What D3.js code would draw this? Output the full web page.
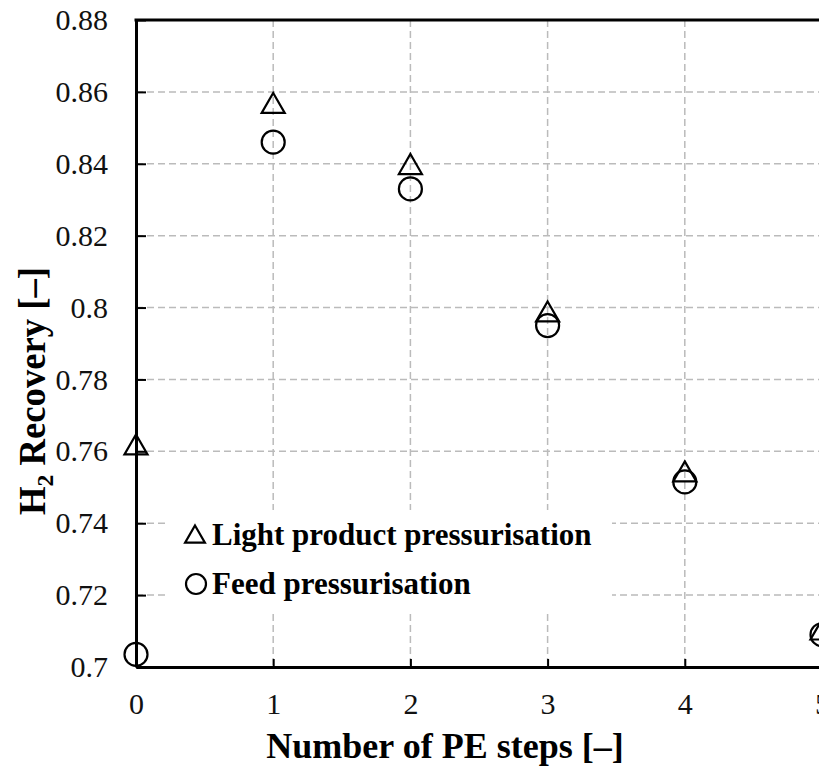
<!DOCTYPE html>
<html>
<head>
<meta charset="utf-8">
<script src="https://cdn.jsdelivr.net/npm/d3@7"></script>
<style>
  body { margin: 0; background: #fff; }
  svg { font-family: "Liberation Serif", "Times New Roman", serif; }
</style>
</head>
<body>
<div id="chart"></div>
<script>
// data
var peSteps = [0, 1, 2, 3, 4, 5];
var lightProduct = [0.761, 0.856, 0.839, 0.798, 0.7535, 0.7095];
var feedPress = [0.7035, 0.846, 0.833, 0.795, 0.7515, 0.709];
var yTicks = [0.7, 0.72, 0.74, 0.76, 0.78, 0.8, 0.82, 0.84, 0.86, 0.88];
var seriesNames = ["Light product pressurisation", "Feed pressurisation"];

var W = 819, H = 767;
var margin = {top: 20, right: -3, bottom: 100, left: 136};
var width = W - margin.left - margin.right,
    height = H - margin.top - margin.bottom;

var svg = d3.select("#chart").append("svg")
    .attr("width", W)
    .attr("height", H);

var g = svg.append("g")
    .attr("transform", "translate(" + margin.left + "," + margin.top + ")");

var x = d3.scaleLinear().domain([0, 5]).range([0, width]);
var y = d3.scaleLinear().domain([0.7, 0.88]).range([height, 0]);

// grid
g.append("g").selectAll("line.hg")
  .data(yTicks.slice(1, -1))
  .enter().append("line")
    .attr("x1", 0).attr("x2", width)
    .attr("y1", function(d) { return y(d); })
    .attr("y2", function(d) { return y(d); })
    .attr("stroke", "#bbb").attr("stroke-width", 1.5)
    .attr("stroke-dasharray", "7,4");

g.append("g").selectAll("line.vg")
  .data(peSteps.slice(1))
  .enter().append("line")
    .attr("y1", 0).attr("y2", height)
    .attr("x1", function(d) { return x(d); })
    .attr("x2", function(d) { return x(d); })
    .attr("stroke", "#bbb").attr("stroke-width", 1.5)
    .attr("stroke-dasharray", "7,4");

// legend background hides the grid
g.append("rect")
  .attr("x", 32).attr("y", 490)
  .attr("width", 444).attr("height", 103)
  .attr("fill", "#fff");

// axes
var yAxis = g.append("g")
  .call(d3.axisLeft(y).tickValues(yTicks).tickSizeInner(-10).tickSizeOuter(0).tickPadding(28)
    .tickFormat(function(d) { return d3.format("")(+d.toFixed(2)); }));
yAxis.select(".domain").attr("stroke-width", 3);
yAxis.selectAll(".tick line").attr("stroke-width", 2);
yAxis.selectAll(".tick text").attr("font-size", 30).attr("font-family", "Liberation Serif").attr("fill", "#111");

var xAxis = g.append("g")
  .attr("transform", "translate(0," + height + ")")
  .call(d3.axisBottom(x).tickValues(peSteps).tickSizeInner(-8).tickSizeOuter(0).tickPadding(26)
    .tickFormat(d3.format("d")));
xAxis.select(".domain").attr("stroke-width", 3);
xAxis.selectAll(".tick line").attr("stroke-width", 2);
xAxis.selectAll(".tick text").attr("font-size", 30).attr("font-family", "Liberation Serif").attr("fill", "#111");

// top border
g.append("line")
  .attr("x1", -1.5).attr("x2", width)
  .attr("y1", 0).attr("y2", 0)
  .attr("stroke", "#000").attr("stroke-width", 3);

// markers
var tri = d3.symbol().type(d3.symbolTriangle).size(230);

g.append("g").selectAll("circle")
  .data(peSteps)
  .enter().append("circle")
    .attr("cx", function(d) { return x(d); })
    .attr("cy", function(d, i) { return y(feedPress[i]); })
    .attr("r", 11.5)
    .attr("fill", "none").attr("stroke", "#000").attr("stroke-width", 2.2);

g.append("g").selectAll("path")
  .data(peSteps)
  .enter().append("path")
    .attr("d", tri)
    .attr("transform", function(d, i) { return "translate(" + x(d) + "," + y(lightProduct[i]) + ")"; })
    .attr("fill", "none").attr("stroke", "#000").attr("stroke-width", 2.2);

// legend
var leg = g.append("g");
leg.append("path").attr("d", d3.symbol().type(d3.symbolTriangle).size(170))
  .attr("transform", "translate(59,517)")
  .attr("fill", "none").attr("stroke", "#000").attr("stroke-width", 2.2);
leg.append("circle").attr("cx", 60).attr("cy", 564).attr("r", 10)
  .attr("fill", "none").attr("stroke", "#000").attr("stroke-width", 2.2);
leg.selectAll("text")
  .data(seriesNames)
  .enter().append("text")
    .attr("x", 76)
    .attr("y", function(d, i) { return 525 + i * 49; })
    .attr("font-size", 31).attr("font-weight", "bold")
    .text(function(d) { return d; });

// axis titles
svg.append("text")
  .attr("x", 445).attr("y", 758)
  .attr("text-anchor", "middle")
  .attr("font-size", 36).attr("font-weight", "bold")
  .text("Number of PE steps [\u2013]");

var yt = svg.append("text")
  .attr("transform", "translate(45,391) rotate(-90)")
  .attr("text-anchor", "middle")
  .attr("font-size", 37).attr("font-weight", "bold")
  .attr("textLength", 248).attr("lengthAdjust", "spacingAndGlyphs");
yt.append("tspan").text("H");
yt.append("tspan").attr("font-size", 24).attr("dy", 8).text("2");
yt.append("tspan").attr("dy", -8).text(" Recovery [\u2013]");
</script>
</body>
</html>
